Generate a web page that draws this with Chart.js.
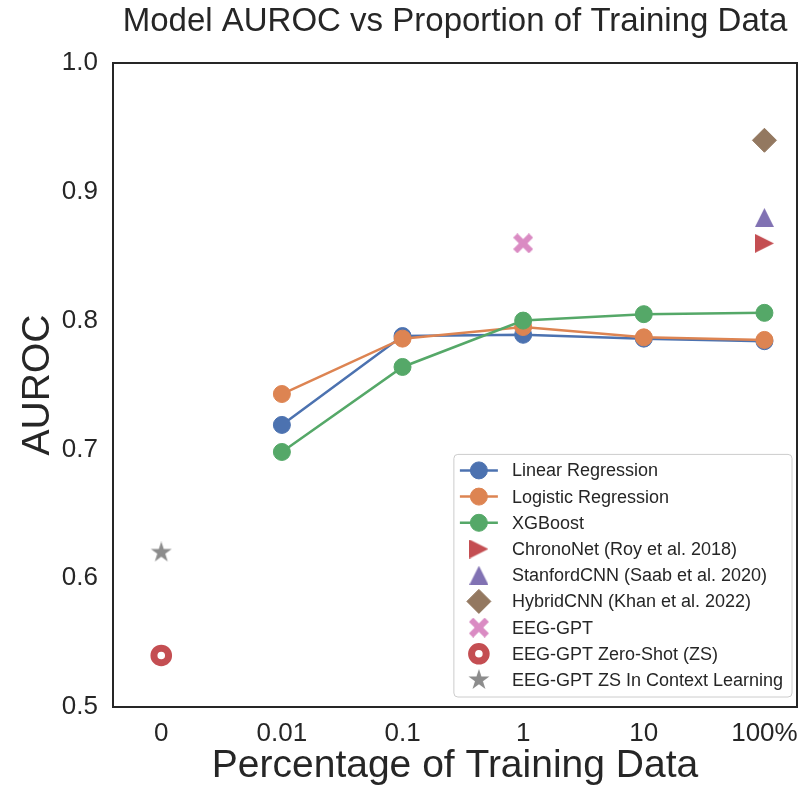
<!DOCTYPE html>
<html>
<head>
<meta charset="utf-8">
<title>Model AUROC vs Proportion of Training Data</title>
<script src="https://cdn.jsdelivr.net/npm/chart.js@4.4.1/dist/chart.umd.min.js"></script>
<style>
  html, body { margin: 0; padding: 0; background: #ffffff; }
</style>
</head>
<body>
<canvas id="aurocChart" width="799" height="790"></canvas>
<script>
// x positions are category indices into xLabels
const xLabels = ["0", "0.01", "0.1", "1", "10", "100%"];
const modelSteps = [1, 2, 3, 4, 5];
const linearRegression = [0.719, 0.788, 0.789, 0.786, 0.784];
const logisticRegression = [0.743, 0.786, 0.795, 0.787, 0.785];
const xgboost = [0.698, 0.764, 0.800, 0.805, 0.806];
// [step, auroc]
const chronoNet = [[5, 0.86]];
const stanfordCnn = [[5, 0.88]];
const hybridCnn = [[5, 0.94]];
const eegGpt = [[3, 0.86]];
const eegGptZeroShot = [[0, 0.54]];
const eegGptZsIcl = [[0, 0.62]];

const FONT = '"Liberation Sans", Arial, Helvetica, sans-serif';
const TEXT = "#262626";

const toSeries = (values) => values.map((v, i) => ({ x: modelSteps[i], y: v }));
const toPoints = (pairs) => pairs.map(([x, y]) => ({ x, y }));

// filled marker shapes that chart.js doesn't have built in
function markerImage(shape, size, color) {
  const c = document.createElement("canvas");
  c.width = size;
  c.height = size;
  const g = c.getContext("2d");
  const h = size / 2;
  g.fillStyle = color;
  g.translate(h, h);
  g.beginPath();
  if (shape === "star") {
    for (let i = 0; i < 10; i++) {
      const r = i % 2 ? h * 0.382 : h;
      const a = -Math.PI / 2 + (i * Math.PI) / 5;
      g.lineTo(r * Math.cos(a), r * Math.sin(a));
    }
  } else if (shape === "triUp") {
    g.moveTo(0, -h);
    g.lineTo(h, h);
    g.lineTo(-h, h);
  } else if (shape === "triRight") {
    g.moveTo(h, 0);
    g.lineTo(-h, h);
    g.lineTo(-h, -h);
  } else if (shape === "x") {
    g.rotate(Math.PI / 4);
    const w = h * 0.3;
    const L = h * Math.SQRT2 - w;
    g.moveTo(-w, -L); g.lineTo(w, -L); g.lineTo(w, -w); g.lineTo(L, -w);
    g.lineTo(L, w); g.lineTo(w, w); g.lineTo(w, L); g.lineTo(-w, L);
    g.lineTo(-w, w); g.lineTo(-L, w); g.lineTo(-L, -w); g.lineTo(-w, -w);
  }
  g.closePath();
  g.fill();
  return c;
}

const lineSet = (label, values, color, order) => ({
  label,
  data: toSeries(values),
  borderColor: color,
  backgroundColor: color,
  borderWidth: 2.5,
  pointStyle: "circle",
  pointRadius: 8.5,
  pointHoverRadius: 8.5,
  pointBorderWidth: 1,
  showLine: true,
  order,
});

const markerSet = (label, pairs, color, style, extra) => Object.assign({
  label,
  data: toPoints(pairs),
  borderColor: color,
  backgroundColor: color,
  pointStyle: style,
  pointRadius: 10,
  pointHoverRadius: 10,
  pointBorderWidth: 0,
  showLine: false,
  order: 1,
}, extra || {});

const datasets = [
  lineSet("Linear Regression", linearRegression, "#4c72b0", 9),
  lineSet("Logistic Regression", logisticRegression, "#dd8452", 8),
  lineSet("XGBoost", xgboost, "#55a868", 7),
  markerSet("ChronoNet (Roy et al. 2018)", chronoNet, "#c44e52", markerImage("triRight", 19, "#c44e52")),
  markerSet("StanfordCNN (Saab et al. 2020)", stanfordCnn, "#8172b3", markerImage("triUp", 19, "#8172b3")),
  markerSet("HybridCNN (Khan et al. 2022)", hybridCnn, "#937860", "rectRot", { pointRadius: 12, pointBorderWidth: 1 }),
  markerSet("EEG-GPT", eegGpt, "#da8bc3", markerImage("x", 20, "#da8bc3")),
  markerSet("EEG-GPT Zero-Shot (ZS)", eegGptZeroShot, "#c44e52", "circle",
    { backgroundColor: "#ffffff", pointRadius: 7.3, pointHoverRadius: 7.3, pointBorderWidth: 7 }),
  markerSet("EEG-GPT ZS In Context Learning", eegGptZsIcl, "#8c8c8c", markerImage("star", 22, "#8c8c8c")),
];

// frame around the axes plus a matplotlib style legend in the lower right
const frameAndLegend = {
  id: "frameAndLegend",
  afterDraw(chart) {
    const { ctx, chartArea: ca } = chart;
    ctx.save();
    ctx.strokeStyle = TEXT;
    ctx.lineWidth = 2;
    ctx.strokeRect(ca.left, ca.top, ca.right - ca.left, ca.bottom - ca.top);

    const sets = chart.data.datasets;
    ctx.font = "18px " + FONT;
    const textW = Math.max(...sets.map((d) => ctx.measureText(d.label).width));
    const rowH = 26.2;
    const boxW = 58 + textW + 9;
    const boxH = 33 + rowH * (sets.length - 1);
    const right = ca.right - 5;
    const bottom = ca.bottom - 10;
    const left = right - boxW;
    const top = bottom - boxH;

    ctx.beginPath();
    ctx.roundRect(left, top, boxW, boxH, 4);
    ctx.fillStyle = "rgba(255,255,255,0.8)";
    ctx.fill();
    ctx.strokeStyle = "#cccccc";
    ctx.lineWidth = 1;
    ctx.stroke();

    sets.forEach((d, i) => {
      const y = top + 16 + i * rowH;
      const mx = left + 25;
      if (d.showLine) {
        ctx.beginPath();
        ctx.moveTo(left + 6, y);
        ctx.lineTo(left + 44, y);
        ctx.strokeStyle = d.borderColor;
        ctx.lineWidth = d.borderWidth;
        ctx.stroke();
      }
      ctx.fillStyle = d.backgroundColor;
      ctx.strokeStyle = d.borderColor;
      ctx.lineWidth = d.pointBorderWidth;
      Chart.helpers.drawPoint(ctx, {
        pointStyle: d.pointStyle,
        radius: d.pointRadius,
        rotation: 0,
        borderWidth: d.pointBorderWidth,
      }, mx, y);
      ctx.fillStyle = TEXT;
      ctx.textAlign = "left";
      ctx.textBaseline = "middle";
      ctx.fillText(d.label, left + 58, y + 1);
    });
    ctx.restore();
  },
};

const ctx = document.getElementById("aurocChart").getContext("2d");
new Chart(ctx, {
  type: "line",
  data: { datasets },
  options: {
    responsive: false,
    animation: false,
    layout: { autoPadding: false, padding: { left: 0, right: 2, top: 0, bottom: 0 } },
    plugins: {
      legend: { display: false },
      tooltip: { enabled: false },
      title: {
        display: true,
        fullSize: false,
        text: "Model AUROC vs Proportion of Training Data",
        color: TEXT,
        font: { family: FONT, size: 33, weight: "normal", lineHeight: 1.2 },
        padding: { top: 2, bottom: 21.4 },
      },
    },
    scales: {
      x: {
        type: "linear",
        min: -0.4,
        max: 5.27,
        afterBuildTicks: (scale) => {
          scale.ticks = xLabels.map((_, i) => ({ value: i }));
        },
        afterFit: (scale) => {
          scale.height = 83;
          scale.paddingLeft = 0;
          scale.paddingRight = 0;
        },
        grid: { display: false, drawTicks: false },
        border: { display: false },
        ticks: {
          autoSkip: false,
          maxRotation: 0,
          padding: 11,
          color: TEXT,
          font: { family: FONT, size: 26 },
          callback: (v) => xLabels[v],
        },
        title: {
          display: true,
          text: "Percentage of Training Data",
          color: TEXT,
          font: { family: FONT, size: 39, lineHeight: 1.2 },
          padding: { top: 0, bottom: 0 },
        },
      },
      y: {
        min: 0.5,
        max: 1.0,
        afterFit: (scale) => {
          scale.width = 113;
          scale.paddingTop = 0;
          scale.paddingBottom = 0;
        },
        grid: { display: false, drawTicks: false },
        border: { display: false },
        ticks: {
          stepSize: 0.1,
          padding: 15,
          color: TEXT,
          font: { family: FONT, size: 26 },
          callback: (v) => v.toFixed(1),
        },
        title: {
          display: true,
          text: "AUROC",
          color: TEXT,
          font: { family: FONT, size: 39, lineHeight: 1.2 },
          padding: { top: 15, bottom: 0 },
        },
      },
    },
  },
  plugins: [frameAndLegend],
});
</script>
</body>
</html>
